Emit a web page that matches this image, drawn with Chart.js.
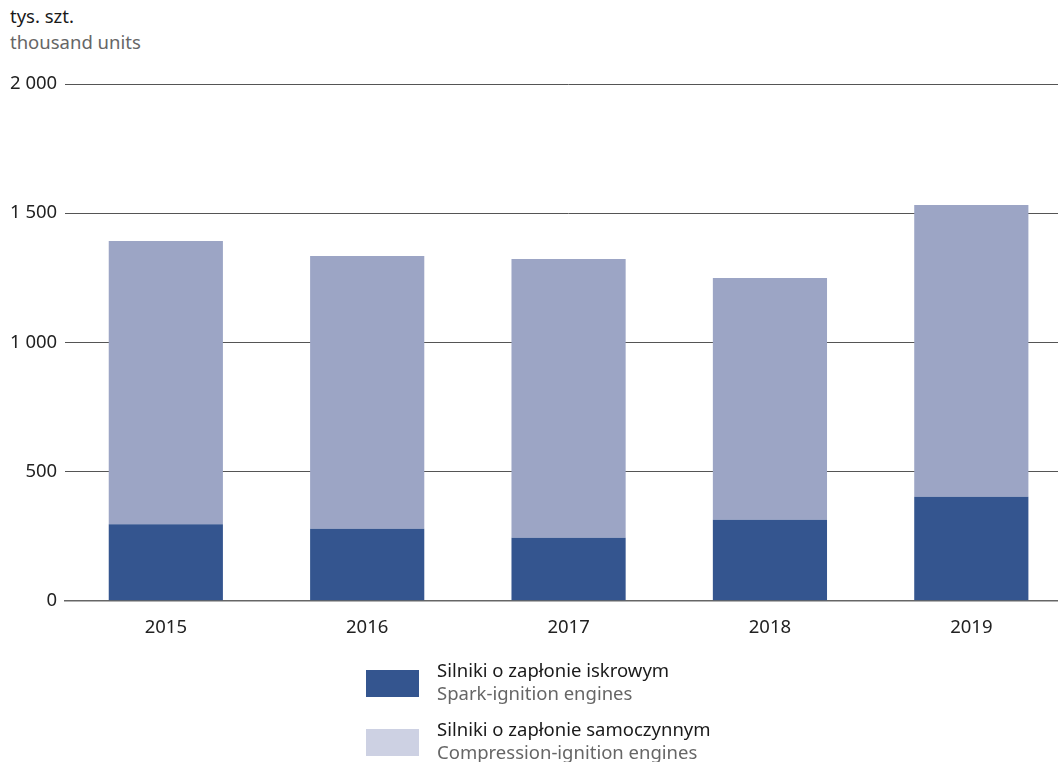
<!DOCTYPE html>
<html>
<head>
<meta charset="utf-8">
<script src="https://cdn.jsdelivr.net/npm/chart.js@4"></script>
<style>
  body { margin: 0; background: #fff; overflow: hidden; width: 1058px; height: 762px; position: relative; font-family: "Noto Sans", sans-serif; }
  #wrap { position: absolute; left: 0; top: 0; width: 1072px; height: 665px; }
  .unit { position: absolute; left: 10px; font-size: 18.5px; line-height: 24px; }
  .leg-box { position: absolute; left: 366px; width: 53px; height: 27px; }
  .leg-txt { position: absolute; left: 437px; font-size: 18.5px; line-height: 23px; }
  .pl { color: #1a1a1a; }
  .en { color: #666; }
</style>
</head>
<body>
<div class="unit pl" style="top:4px">tys. szt.</div>
<div class="unit en" style="top:30px">thousand units</div>
<div id="wrap"><canvas id="barchart"></canvas></div>

<div class="leg-box" style="top:670px;background:#34558f"></div>
<div class="leg-txt" style="top:658px"><span class="pl">Silniki o zapłonie iskrowym</span><br><span class="en">Spark-ignition engines</span></div>
<div class="leg-box" style="top:729px;background:#cdd1e3"></div>
<div class="leg-txt" style="top:717px"><span class="pl">Silniki o zapłonie samoczynnym</span><br><span class="en">Compression-ignition engines</span></div>

<script>
const years = ['2015', '2016', '2017', '2018', '2019']
const spark = [296, 279, 244, 314, 403]
const compression = [1096, 1055, 1079, 935, 1129]

const chart_data = {
    labels: years,
    datasets: [{
        label: 'Silniki o zapłonie iskrowym',
        backgroundColor: '#34558f',
        data: spark,
    }, {
        label: 'Silniki o zapłonie samoczynnym',
        backgroundColor: '#9ca5c5',
        data: compression,
    }]
};

const config = {
    type: 'bar',
    data: chart_data,
    options: {
        responsive: true,
        maintainAspectRatio: false,
        animation: false,
        layout: {padding: {left: 2, top: 84, right: 0, bottom: 10}},
        datasets: {bar: {categoryPercentage: 1, barPercentage: 0.567}},
        plugins: {legend: {display: false}, tooltip: {enabled: false}},
        scales: {
            x: {
                stacked: true,
                grid: {display: false, drawTicks: false},
                border: {color: '#666', width: 1.5},
                ticks: {color: '#222', font: {family: 'Noto Sans', size: 18.5}, padding: 16}
            },
            y: {
                stacked: true,
                min: 0,
                max: 2000,
                grid: {color: '#555', drawTicks: false},
                border: {display: false},
                ticks: {
                    stepSize: 500,
                    color: '#222',
                    padding: 8,
                    font: {family: 'Noto Sans', size: 18.5},
                    callback: function(v){ return v >= 1000 ? Math.floor(v/1000) + ' ' + String(v % 1000).padStart(3, '0') : String(v) }
                }
            }
        }
    }
};

const barchart = new Chart(document.getElementById('barchart'), config);
</script>
</body>
</html>
